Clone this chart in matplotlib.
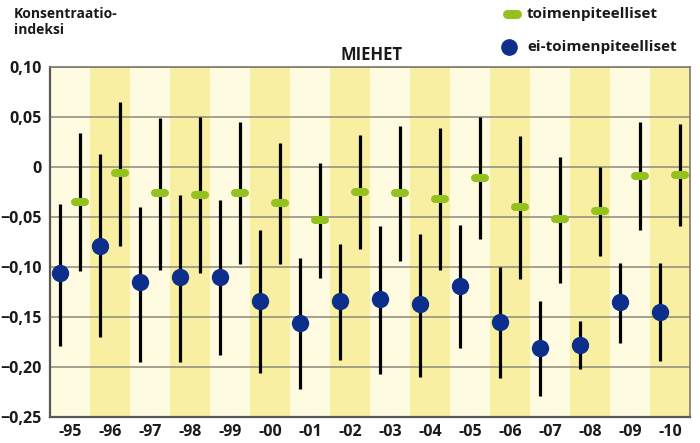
import matplotlib
matplotlib.use("Agg")
import matplotlib.pyplot as plt
import numpy as np

years = ["-95", "-96", "-97", "-98", "-99", "-00", "-01", "-02", "-03", "-04",
         "-05", "-06", "-07", "-08", "-09", "-10"]

# ei-toimenpiteelliset (blue): value, lower, upper
blue_val = [-0.106, -0.079, -0.115, -0.110, -0.110, -0.134, -0.156, -0.134, -0.132, -0.137,
            -0.119, -0.155, -0.181, -0.178, -0.135, -0.145]
blue_lo = [-0.179, -0.170, -0.195, -0.195, -0.188, -0.206, -0.222, -0.193, -0.207, -0.210,
           -0.181, -0.211, -0.229, -0.202, -0.176, -0.194]
blue_hi = [-0.037, 0.013, -0.040, -0.028, -0.033, -0.063, -0.091, -0.077, -0.059, -0.067,
           -0.058, -0.100, -0.134, -0.154, -0.096, -0.096]

# toimenpiteelliset (green): value, lower, upper
green_val = [-0.035, -0.006, -0.026, -0.028, -0.026, -0.036, -0.053, -0.025, -0.026, -0.032,
             -0.011, -0.040, -0.052, -0.044, -0.009, -0.008]
green_lo = [-0.104, -0.079, -0.103, -0.106, -0.097, -0.097, -0.111, -0.082, -0.094, -0.103,
            -0.072, -0.112, -0.116, -0.089, -0.063, -0.059]
green_hi = [0.034, 0.065, 0.049, 0.050, 0.045, 0.024, 0.004, 0.032, 0.041, 0.039,
            0.050, 0.031, 0.010, 0.000, 0.045, 0.043]

yticks = [0.10, 0.05, 0.0, -0.05, -0.10, -0.15, -0.20, -0.25]
ytick_labels = ["0,10", "0,05", "0", "\u22120,05", "\u22120,10", "\u22120,15", "\u22120,20", "\u22120,25"]

BLUE = "#0c2f8c"
GREEN = "#95c11f"
CREAM = "#fefbe1"
YELLOW = "#f9efa2"
GRID = "#8c8a7c"
TXT = "#1a1a1a"

plt.rcParams['font.family'] = ['Open Sans', 'DejaVu Sans']

fig = plt.figure(figsize=(7.0, 4.43), dpi=100)
ax = fig.add_axes([50/700, 26/443, 640/700, 350/443])

n = len(years)
x = np.arange(n)
for i in range(n):
    ax.axvspan(i - 0.5, i + 0.5, color=CREAM if i % 2 == 0 else YELLOW, lw=0, zorder=0)

ax.set_xlim(-0.5, n - 0.5)
ax.set_ylim(-0.25, 0.10)
ax.set_yticks(yticks)
ax.set_yticklabels(ytick_labels)
ax.set_xticks(x)
ax.set_xticklabels(years)
for yv in yticks:
    ax.axhline(yv, color=GRID, lw=1.1, zorder=1)

xb = x - 0.25
xg = x + 0.25
bv = np.array(blue_val); gv = np.array(green_val)
ax.vlines(xb, blue_lo, blue_hi, color="black", lw=2.3, zorder=3)
ax.vlines(xg, green_lo, green_hi, color="black", lw=2.3, zorder=3)
ax.plot(xb, bv, 'o', color=BLUE, ms=11.5, mec=BLUE, zorder=4)
hl = ax.hlines(gv, xg - 0.12, xg + 0.12, color=GREEN, lw=5.8, zorder=4)
hl.set_capstyle('round')

for s in ax.spines.values():
    s.set_color("#7d7b70")
    s.set_linewidth(1.2)
ax.spines['left'].set_color("#5a5a55")
ax.spines['bottom'].set_color("#5a5a55")
ax.spines['left'].set_linewidth(1.6)
ax.spines['bottom'].set_linewidth(1.6)

ax.tick_params(axis='both', length=0, labelsize=11.5, colors=TXT)
ax.tick_params(axis='y', pad=6)
ax.tick_params(axis='x', pad=5)
for lab in ax.get_yticklabels() + ax.get_xticklabels():
    lab.set_fontweight('bold')

fig.text(14/700, 1 - 22/443, "Konsentraatio-\nindeksi", fontsize=10, fontweight='bold',
         va='center', ha='left', linespacing=1.15, color=TXT)
fig.text(372/700, 1 - 55/443, "MIEHET", fontsize=12, fontweight='bold', ha='center', va='center',
         color=TXT)

# legend
lx = fig.add_axes([0, 0, 1, 1], frameon=False)
lx.set_xlim(0, 700); lx.set_ylim(443, 0)
lx.axis('off')
lx.plot([507, 517], [14, 14], color=GREEN, lw=6.5, solid_capstyle='round')
lx.plot([509], [47], 'o', color=BLUE, ms=11)
lx.text(527, 14, "toimenpiteelliset", fontsize=11, fontweight='bold', va='center', ha='left', color=TXT)
lx.text(527, 47, "ei-toimenpiteelliset", fontsize=11, fontweight='bold', va='center', ha='left', color=TXT)

fig.savefig("out.png", dpi=100, facecolor="white")
